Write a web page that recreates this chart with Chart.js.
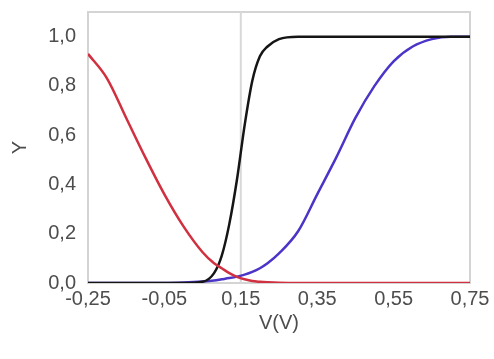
<!DOCTYPE html>
<html>
<head>
<meta charset="utf-8">
<script src="https://cdn.jsdelivr.net/npm/chart.js@4.4.1/dist/chart.umd.min.js"></script>
<style>
  html, body { margin: 0; padding: 0; background: #fff; }
  #wrap { width: 494px; height: 359px; }
</style>
</head>
<body>
<div id="wrap"><canvas id="curveChart"></canvas></div>
<script>
// sampled voltages (V)
const voltages = [-0.25, -0.2, -0.15, -0.1, -0.05, 0, 0.05, 0.08, 0.1, 0.12, 0.14, 0.16, 0.18,
    0.2, 0.22, 0.25, 0.3, 0.35, 0.4, 0.45, 0.5, 0.55, 0.6, 0.65, 0.7, 0.75];

const redCurve = [0.93, 0.83, 0.67, 0.51, 0.36, 0.23, 0.125, 0.08, 0.06, 0.04, 0.025, 0.015, 0.008,
    0.005, 0.003, 0.001, 0, 0, 0, 0, 0, 0, 0, 0, 0, 0];
const blackCurve = [0, 0, 0, 0, 0, 0, 0.005, 0.04, 0.11, 0.24, 0.42, 0.64, 0.82,
    0.92, 0.96, 0.99, 1.0, 1.0, 1.0, 1.0, 1.0, 1.0, 1.0, 1.0, 1.0, 1.0];
const blueCurve = [0, 0, 0, 0, 0, 0.002, 0.006, 0.01, 0.015, 0.02, 0.026, 0.034, 0.045,
    0.06, 0.08, 0.12, 0.21, 0.36, 0.51, 0.67, 0.8, 0.9, 0.96, 0.99, 1.0, 1.0];

const markerX = [0.15, 0.15];
const markerY = [0, 1.1];

const xTicks = [-0.25, -0.05, 0.15, 0.35, 0.55, 0.75];
const yTicks = [0, 0.2, 0.4, 0.6, 0.8, 1.0];

function toPoints(xs, ys) {
    return xs.map((x, i) => ({ x: x, y: ys[i] }));
}

function commaLabel(v, digits) {
    return v.toFixed(digits).replace('.', ',');
}

const frame = {
    id: 'frame',
    beforeDatasetsDraw(chart) {
        const a = chart.chartArea;
        const ctx = chart.ctx;
        ctx.save();
        ctx.strokeStyle = '#d4d4d4';
        ctx.lineWidth = 2;
        ctx.strokeRect(a.left, a.top, a.right - a.left, a.bottom - a.top);
        ctx.restore();
    }
};

const font = { family: "'Liberation Sans', Arial, sans-serif", size: 20 };

const ctx = document.getElementById('curveChart').getContext('2d');
new Chart(ctx, {
    type: 'line',
    data: {
        datasets: [
            {
                data: toPoints(voltages, redCurve),
                borderColor: '#d0303f',
                borderWidth: 2.5,
                cubicInterpolationMode: 'monotone'
            },
            {
                data: toPoints(voltages, blackCurve),
                borderColor: '#151515',
                borderWidth: 2.5,
                cubicInterpolationMode: 'monotone'
            },
            {
                data: toPoints(voltages, blueCurve),
                borderColor: '#4a35c8',
                borderWidth: 2.5,
                cubicInterpolationMode: 'monotone'
            },
            {
                data: toPoints(markerX, markerY),
                borderColor: '#d8d8d8',
                borderWidth: 2
            }
        ]
    },
    options: {
        responsive: true,
        maintainAspectRatio: false,
        animation: false,
        layout: { padding: { left: 4, right: 24, top: 12, bottom: 20 } },
        elements: { point: { radius: 0 } },
        plugins: {
            legend: { display: false },
            tooltip: { enabled: false }
        },
        scales: {
            x: {
                type: 'linear',
                min: -0.25,
                max: 0.75,
                grid: { display: false, drawTicks: false },
                border: { display: false },
                afterBuildTicks: scale => { scale.ticks = xTicks.map(v => ({ value: v })); },
                afterFit: scale => { scale.height = 56; },
                ticks: {
                    color: '#4d4d4d',
                    font: font,
                    padding: 4,
                    maxRotation: 0,
                    autoSkip: false,
                    callback: v => commaLabel(v, 2)
                },
                title: { display: true, text: 'V(V)', color: '#4d4d4d', font: font, padding: { top: 2, bottom: 4 } }
            },
            y: {
                min: 0,
                max: 1.1,
                grid: { display: false, drawTicks: false },
                border: { display: false },
                afterBuildTicks: scale => { scale.ticks = yTicks.map(v => ({ value: v })); },
                afterFit: scale => {
                    scale.width = 84;
                    scale.paddingTop = 0;
                    scale.paddingBottom = 0;
                },
                ticks: {
                    color: '#4d4d4d',
                    font: font,
                    padding: 12,
                    callback: v => commaLabel(v, 1)
                },
                title: { display: true, text: 'Y', color: '#4d4d4d', font: font, padding: 4 }
            }
        }
    },
    plugins: [frame]
});
</script>
</body>
</html>
